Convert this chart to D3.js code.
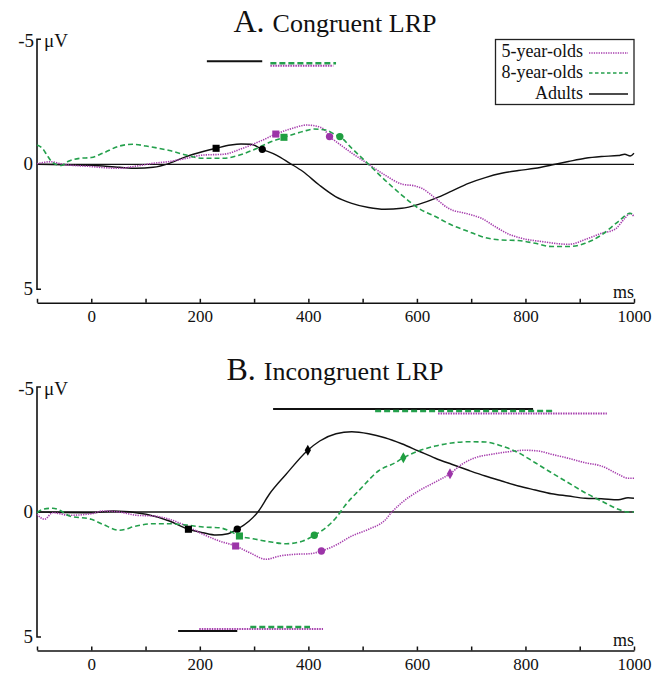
<!DOCTYPE html>
<html>
<head>
<meta charset="utf-8">
<script src="https://cdn.jsdelivr.net/npm/d3@7"></script>
<style>
  body { margin: 0; background: #fff; }
  svg text { font-family: 'Liberation Serif', 'Times New Roman', Times, serif; fill: #111; }
</style>
</head>
<body>
<div id="chart"></div>
<script>
// series: [ms, microvolts] (negative is up, as in the plot)
var groups = ["five", "eight", "adults"];
var groupLabels = ["5-year-olds", "8-year-olds", "Adults"];

var congAdults = [[-100,0],[-50,0.02],[0,0.04],[52,0.12],[83,0.16],[114,0.12],[144,-0.04],[175,-0.31],[206,-0.51],[230,-0.64],[257,-0.77],[276,-0.81],[294,-0.8],[315,-0.6],[341,-0.37],[366,-0.04],[390,0.29],[420,0.83],[450,1.29],[480,1.56],[511,1.73],[541,1.8],[572,1.76],[603,1.6],[634,1.36],[664,1.07],[695,0.76],[726,0.53],[756,0.36],[787,0.25],[818,0.16],[848,0.03],[879,-0.11],[910,-0.24],[940,-0.31],[971,-0.35],[983,-0.4],[993,-0.33],[1000,-0.44]];
var congFive = [[-100,-0.02],[-75,-0.1],[-52,0],[0,0.09],[21,0.13],[52,0.16],[83,0.07],[114,-0.04],[144,-0.11],[175,-0.24],[206,-0.37],[243,-0.4],[279,-0.64],[316,-0.97],[340,-1.21],[371,-1.44],[396,-1.57],[414,-1.53],[430,-1.37],[439,-1.11],[451,-0.91],[480,-0.45],[511,0],[541,0.43],[572,0.79],[597,0.87],[609,0.96],[634,1.36],[658,1.76],[695,1.99],[719,2.16],[744,2.49],[769,2.79],[793,2.96],[830,3.09],[879,3.2],[916,2.96],[940,2.76],[965,2.6],[983,2.16],[993,1.96],[1000,2.09]];
var congEight = [[-100,-0.77],[-90,-0.64],[-80,-0.31],[-71,-0.07],[-55,0.05],[-43,-0.11],[-21,-0.24],[0,-0.27],[21,-0.44],[52,-0.73],[77,-0.8],[101,-0.73],[144,-0.55],[175,-0.37],[206,-0.24],[243,-0.24],[267,-0.33],[298,-0.57],[328,-0.87],[355,-1.08],[390,-1.31],[410,-1.41],[432,-1.37],[451,-1.17],[458,-1.11],[480,-0.64],[511,0],[541,0.63],[572,1.23],[603,1.76],[634,2.09],[664,2.43],[695,2.69],[726,2.93],[756,3.03],[787,3.05],[818,3.16],[848,3.29],[879,3.29],[910,3.16],[940,2.83],[971,2.29],[993,1.96],[1000,2.09]];

var incongAdults = [[-100,0],[-50,0.02],[0,0.03],[40,-0.04],[101,0.09],[144,0.36],[179,0.69],[206,0.83],[230,0.92],[252,0.87],[269,0.69],[291,0.36],[307,0],[328,-0.71],[359,-1.51],[399,-2.47],[421,-2.84],[451,-3.13],[480,-3.21],[511,-3.13],[541,-2.97],[572,-2.73],[603,-2.44],[634,-2.15],[664,-1.91],[695,-1.67],[726,-1.44],[756,-1.24],[787,-1.04],[818,-0.88],[848,-0.73],[879,-0.64],[910,-0.55],[940,-0.53],[971,-0.49],[989,-0.57],[1000,-0.55]];
var incongFive = [[-100,0.09],[-86,0.29],[-71,0.03],[-40,0.13],[0,0.07],[21,-0.04],[52,0],[83,0.13],[114,0.16],[144,0.29],[175,0.56],[206,0.89],[236,1.16],[266,1.36],[292,1.63],[322,1.89],[347,1.76],[377,1.69],[402,1.67],[424,1.56],[451,1.32],[480,0.96],[511,0.69],[541,0.33],[554,0],[572,-0.37],[603,-0.84],[634,-1.2],[661,-1.53],[683,-1.91],[707,-2.17],[738,-2.31],[769,-2.41],[799,-2.47],[824,-2.44],[848,-2.31],[879,-2.15],[910,-1.97],[940,-1.84],[971,-1.51],[989,-1.35],[1000,-1.35]];
var incongEight = [[-100,0.03],[-89,-0.11],[-71,-0.15],[-58,-0.07],[-40,0.16],[0,0.29],[21,0.49],[52,0.73],[83,0.56],[114,0.47],[144,0.47],[175,0.52],[206,0.6],[236,0.63],[255,0.76],[273,0.96],[298,1.07],[328,1.19],[359,1.27],[390,1.16],[411,0.93],[432,0.63],[451,0.23],[467,-0.24],[498,-0.97],[529,-1.64],[560,-1.97],[575,-2.17],[603,-2.44],[634,-2.64],[664,-2.76],[695,-2.81],[726,-2.8],[756,-2.64],[787,-2.37],[818,-1.97],[848,-1.57],[879,-1.17],[910,-0.77],[940,-0.44],[971,-0.11],[989,0],[1000,0]];

// markers: [group, shape, ms, microvolts]
var congMarkers = [["adults","square",230,-0.64],["adults","circle",315,-0.6],["five","square",340,-1.21],["five","circle",439,-1.11],["eight","square",355,-1.08],["eight","circle",458,-1.11]];
var incongMarkers = [["adults","square",179,0.69],["adults","circle",269,0.69],["adults","diamond",399,-2.47],["five","square",266,1.36],["five","circle",424,1.56],["five","diamond",661,-1.53],["eight","square",273,0.96],["eight","circle",411,0.93],["eight","diamond",575,-2.17]];

// significance bars: [group, start ms, end ms]
var congBars = [["adults",213,315],["eight",330,451],["five",330,446]];
var incongBarsTop = [["adults",335,814],["eight",523,851],["five",639,950]];
var incongBarsBottom = [["adults",160,269],["five",199,427],["eight",293,403]];

var xTicks = [-100,0,100,200,300,400,500,600,700,800,900,1000];

var FONT = "'Liberation Serif', 'Times New Roman', Times, serif";
var svg = d3.select("#chart").append("svg").attr("width", 667).attr("height", 674);

var x = d3.scaleLinear().domain([-100, 1000]).range([37, 634]);
var color = d3.scaleOrdinal().domain(groups).range(["#a63dad", "#24a04c", "#111111"]);
var markColor = d3.scaleOrdinal().domain(groups).range(["#9c34a8", "#1f9e40", "#000000"]);
var dash = {five: "1.3,1.1", eight: "5,3", adults: null};
var lw = {five: 1.6, eight: 1.6, adults: 1.4};
var barDash = {five: "1.5,1", eight: "6,3", adults: null};
var shapes = {square: d3.symbolSquare, circle: d3.symbolCircle, diamond: d3.symbolDiamond};
var shapeSize = {square: 50, circle: 42, diamond: 34};
var topRow = {adults: 22, eight: 24, five: 26.5};
var bottomRow = {adults: -6, five: -8, eight: -10};

function label(g, xp, yp, size, anchor, txt) {
  return g.append("text").attr("x", xp).attr("y", yp).attr("text-anchor", anchor)
    .style("font-family", FONT).style("font-size", size + "px").text(txt);
}

function drawPanel(top, letter, title, series, markers, barsTop, barsBottom) {
  var y = d3.scaleLinear().domain([-5, 5]).range([top, top + 250]);
  var g = svg.append("g");

  var t = g.append("text").attr("x", 335).attr("y", y(-5) - 7).attr("text-anchor", "middle").style("font-family", FONT);
  t.append("tspan").style("font-size", "32px").text(letter + " ");
  t.append("tspan").style("font-size", "26px").text(title);

  // y axis with end hooks
  g.append("path")
    .attr("d", "M41," + y(-5) + "H37V" + y(5) + "H41")
    .attr("fill", "none").attr("stroke", "#111").attr("stroke-width", 1.6);
  label(g, 34, y(-5) + 8, 19, "end", "-5");
  label(g, 44, y(-5) + 8, 19, "start", "\u03bcV");
  label(g, 33, y(0) + 6, 19, "end", "0");
  label(g, 33, y(5) + 6, 19, "end", "5");

  // zero line
  g.append("line").attr("x1", x(-100)).attr("x2", x(1000)).attr("y1", y(0)).attr("y2", y(0))
    .attr("stroke", "#111").attr("stroke-width", 1.3);

  // x axis
  var ax = g.append("g").attr("transform", "translate(0," + (y(5) + 13.5) + ")")
    .call(d3.axisBottom(x).tickValues(xTicks).tickSize(-4).tickSizeOuter(0).tickPadding(7)
      .tickFormat(function(d){ return d % 200 === 0 ? d : ""; }));
  ax.attr("font-family", null).attr("font-size", null);
  ax.selectAll("text").style("font-family", FONT).style("font-size", "17px").attr("fill", "#111");
  ax.selectAll("line, path").attr("stroke", "#111").attr("stroke-width", 1.5);
  label(g, 634, y(5) + 9, 18, "end", "ms");

  // curves
  var line = d3.line().x(function(d){ return x(d[0]); }).y(function(d){ return y(d[1]); }).curve(d3.curveMonotoneX);
  series.forEach(function(s) {
    g.append("path").datum(s[1])
      .attr("d", line)
      .attr("fill", "none")
      .attr("stroke", color(s[0]))
      .attr("stroke-width", lw[s[0]])
      .attr("stroke-dasharray", dash[s[0]]);
  });

  // markers
  g.selectAll(".mk").data(markers).enter().append("path")
    .attr("transform", function(d){ return "translate(" + x(d[2]) + "," + y(d[3]) + ")"; })
    .attr("d", function(d){ return d3.symbol().type(shapes[d[1]]).size(shapeSize[d[1]])(); })
    .attr("fill", function(d){ return markColor(d[0]); });

  // significance bars
  function bars(data, yPos) {
    g.selectAll(null).data(data).enter().append("line")
      .attr("x1", function(d){ return x(d[1]); })
      .attr("x2", function(d){ return x(d[2]); })
      .attr("y1", function(d){ return yPos(d[0]); })
      .attr("y2", function(d){ return yPos(d[0]); })
      .attr("stroke", function(d){ return color(d[0]); })
      .attr("stroke-width", function(d){ return d[0] === "eight" ? 2.6 : 2; })
      .attr("stroke-dasharray", function(d){ return barDash[d[0]]; });
  }
  if (barsTop) bars(barsTop, function(k){ return y(-5) + topRow[k]; });
  if (barsBottom) bars(barsBottom, function(k){ return y(5) + bottomRow[k]; });
  return g;
}

var gA = drawPanel(39.3, "A.", "Congruent LRP",
  [["adults", congAdults], ["five", congFive], ["eight", congEight]], congMarkers, congBars, null);
drawPanel(387, "B.", "Incongruent LRP",
  [["adults", incongAdults], ["five", incongFive], ["eight", incongEight]], incongMarkers, incongBarsTop, incongBarsBottom);

// legend
var lg = gA.append("g");
lg.append("rect").attr("x", 495.5).attr("y", 39.5).attr("width", 138.5).attr("height", 65)
  .attr("fill", "#fff").attr("stroke", "#222").attr("stroke-width", 1.3);
var legBase = [57, 78, 98.5], legLine = [53, 73, 94];
groups.forEach(function(k, i) {
  label(lg, 583, legBase[i], 18, "end", groupLabels[i]);
  lg.append("line").attr("x1", 589).attr("x2", 628).attr("y1", legLine[i]).attr("y2", legLine[i])
    .attr("stroke", color(k)).attr("stroke-width", 1.3).attr("stroke-dasharray", k === "eight" ? "3.5,2.5" : dash[k]);
});
</script>
</body>
</html>
